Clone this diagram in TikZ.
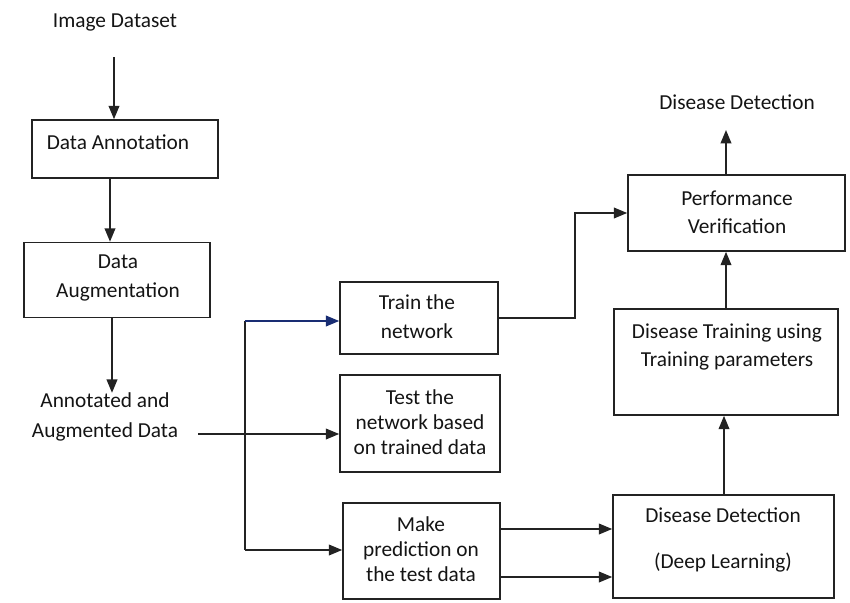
\documentclass[tikz,border=0pt]{standalone}
\usepackage{fontspec}
\setmainfont{Carlito}
\usetikzlibrary{arrows.meta}
\definecolor{linec}{RGB}{35,35,35}
\definecolor{textc}{RGB}{20,20,20}
\definecolor{bluec}{RGB}{25,45,115}
\begin{document}
\begin{tikzpicture}[x=0.75pt,y=-0.75pt,
  box/.style={draw=linec, line width=1.2pt, rectangle, inner sep=0pt},
  txt/.style={text=textc, font=\fontsize{16}{21}\selectfont, align=center, inner sep=0pt},
  arr/.style={draw=linec, line width=1.2pt, -{Triangle[length=10pt,width=8pt]}},
  ln/.style={draw=linec, line width=1.2pt}]
\useasboundingbox (0,0) rectangle (850,603);

% boxes
\node[box, minimum width=186*0.75pt, minimum height=58*0.75pt] (ann) at (125,149) {};
\node[box, minimum width=186*0.75pt, minimum height=75*0.75pt] (aug) at (117,280) {};
\node[box, minimum width=158*0.75pt, minimum height=72*0.75pt] (train) at (419,318) {};
\node[box, minimum width=160*0.75pt, minimum height=97*0.75pt] (test) at (420,423.5) {};
\node[box, minimum width=157*0.75pt, minimum height=96*0.75pt] (pred) at (421.5,551) {};
\node[box, minimum width=221*0.75pt, minimum height=103*0.75pt] (dl) at (723.5,546.5) {};
\node[box, minimum width=224*0.75pt, minimum height=106*0.75pt] (dt) at (726,362) {};
\node[box, minimum width=217*0.75pt, minimum height=76*0.75pt] (pv) at (736.5,213) {};

% texts
\node[txt] (src) at (115,22) {Image Dataset};
\node[txt] (tann) at (118,142) {Data Annotation};
\node[txt, font=\fontsize{16}{22}\selectfont] (taug) at (118,278) {Data\\Augmentation};
\node[txt, font=\fontsize{16}{22}\selectfont] (aad) at (105,417) {Annotated and\\Augmented Data};
\node[txt, font=\fontsize{16}{22}\selectfont] (ttrain) at (417,317) {Train the\\network};
\node[txt, font=\fontsize{16}{19}\selectfont] (ttest) at (420,422) {Test the\\network based\\on trained data};
\node[txt, font=\fontsize{16}{18.5}\selectfont] (tpred) at (421,549) {Make\\prediction on\\the test data};
\node[txt, font=\fontsize{16}{34.5}\selectfont] (tdl) at (723,540) {Disease Detection\\(Deep Learning)};
\node[txt] (tdt) at (727,347) {Disease Training using\\Training parameters};
\node[txt] (tpv) at (737,212) {Performance\\Verification};
\node[txt] (out) at (737,102) {Disease Detection};

% helper coordinates
\coordinate (c1) at (114,57);
\coordinate (k1) at (110,0);
\coordinate (k2) at (112,0);
\coordinate (a0) at (198,434);
\coordinate (bt) at (245,321);
\coordinate (bb) at (245,550);
\coordinate (tv) at (575,0);
\coordinate (p1) at (0,529);
\coordinate (p2) at (0,577);
\coordinate (v1) at (724,0);
\coordinate (o1) at (726,130);

% connectors
\draw[arr] (c1) -- (c1 |- ann.north);
\draw[arr] (ann.south -| k1) -- (aug.north -| k1);
\draw[arr] (aug.south -| k2) -- (aad.north -| k2);
\draw[arr] (a0) -- (test.west |- a0);
\draw[ln] (bt) -- (bb);
\draw[arr, draw=bluec, -{Triangle[length=10pt,width=8pt,fill=bluec]}] (bt) -- (train.west |- bt);
\draw[arr] (bb) -- (pred.west |- bb);
\draw[arr] (train.east) -| (tv |- pv.west) -- (pv.west);
\draw[arr] (pred.east |- p1) -- (dl.west |- p1);
\draw[arr] (pred.east |- p2) -- (dl.west |- p2);
\draw[arr] (dl.north -| v1) -- (dt.south -| v1);
\draw[arr] (dt.north) -- (dt.north |- pv.south);
\draw[arr] (pv.north -| o1) -- (o1);
\end{tikzpicture}
\end{document}
